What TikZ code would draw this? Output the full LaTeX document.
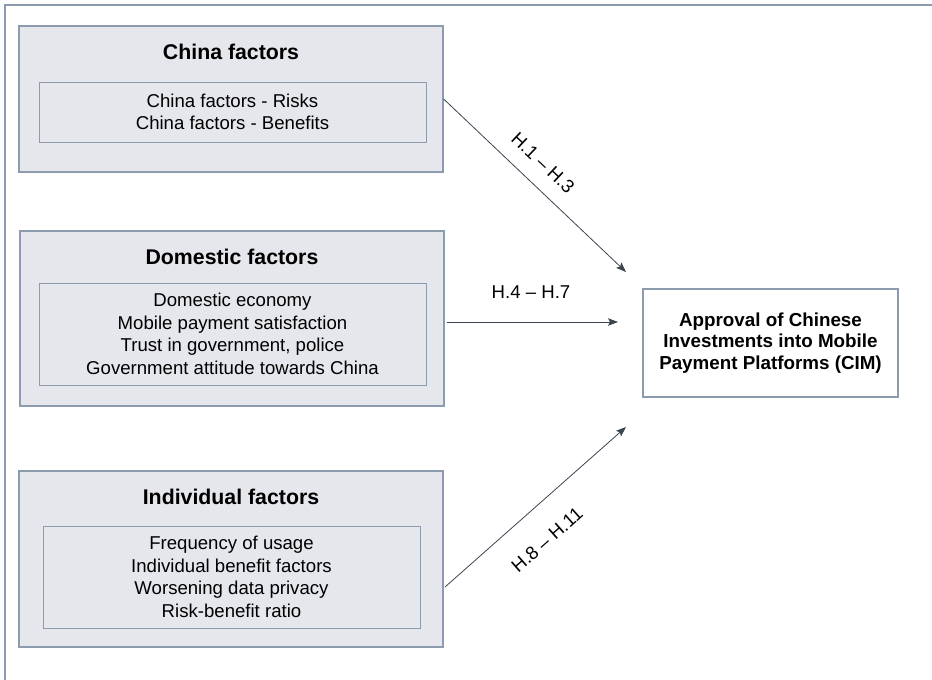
\documentclass[tikz,border=0pt]{standalone}
\usepackage{fontspec}
\setmainfont{Liberation Sans}
\usetikzlibrary{arrows.meta,calc}
\definecolor{boxfill}{HTML}{E6E7EC}
\definecolor{boxline}{HTML}{8D9BAE}
\definecolor{arrowcol}{HTML}{3B4550}
\tikzset{
  outerbox/.style={draw=boxline, fill=boxfill, line width=1.3pt, minimum width=424pt, inner sep=0pt},
  innerbox/.style={draw=boxline, fill=boxfill, line width=1pt, minimum width=387pt, inner sep=0pt, align=center,
    font=\fontsize{18.6pt}{22.6pt}\selectfont},
  titletext/.style={font=\fontsize{21.3pt}{25pt}\selectfont\bfseries},
  targetbox/.style={draw=boxline, fill=white, line width=1.3pt, minimum width=255pt, minimum height=108pt,
    inner sep=0pt, align=center, font=\fontsize{18.8pt}{21.5pt}\selectfont\bfseries},
  hyplabel/.style={font=\fontsize{18.6pt}{22pt}\selectfont, inner sep=0pt},
  conn/.style={draw=arrowcol, line width=0.8pt, -{Stealth[length=10pt,width=7.5pt,inset=2pt]}}
}
\begin{document}
\begin{tikzpicture}[x=1pt,y=-1pt]
\useasboundingbox (0,0) rectangle (932,680);
% outer frame (top and left visible)
\draw[boxline, line width=1.3pt] (5,680) -- (5,5) -- (932,5);

% China factors
\node[outerbox, minimum height=146pt] (chinaout) at (231,99) {};
\node[titletext] (chinatitle) at (231,52) {China factors};
\node[innerbox, minimum height=60pt] (chinain) at (232.5,112) {China factors - Risks\\China factors - Benefits};

% Domestic factors
\node[outerbox, minimum height=175pt] (domout) at (232,318.5) {};
\node[titletext] (domtitle) at (232,257) {Domestic factors};
\node[innerbox, minimum height=102pt] (domin) at (232.5,334) {Domestic economy\\Mobile payment satisfaction\\Trust in government, police\\Government attitude towards China};

% Individual factors
\node[outerbox, minimum height=176pt] (indout) at (231,559) {};
\node[titletext] (indtitle) at (231,497) {Individual factors};
\node[innerbox, minimum width=377pt, minimum height=102pt] (indin) at (231.5,577) {Frequency of usage\\Individual benefit factors\\Worsening data privacy\\Risk-benefit ratio};

% Target
\node[targetbox] (cim) at (770.5,343) {Approval of Chinese\\Investments into Mobile\\Payment Platforms (CIM)};

% connector end points
\coordinate (e1) at (626,272);
\coordinate (s2) at (447,322);
\coordinate (e2) at (618,322);
\coordinate (s3) at (445,587);
\coordinate (e3) at (626,427);

\draw[conn] (chinaout.east) -- (e1);
\draw[conn] (s2) -- (e2);
\draw[conn] (s3) -- (e3);

\node[hyplabel, rotate=-43.4] (h1) at (543,163) {H.1 – H.3};
\node[hyplabel] (h4) at (531,292) {H.4 – H.7};
\node[hyplabel, rotate=41.5] (h8) at (547,540) {H.8 – H.11};
\end{tikzpicture}
\end{document}
